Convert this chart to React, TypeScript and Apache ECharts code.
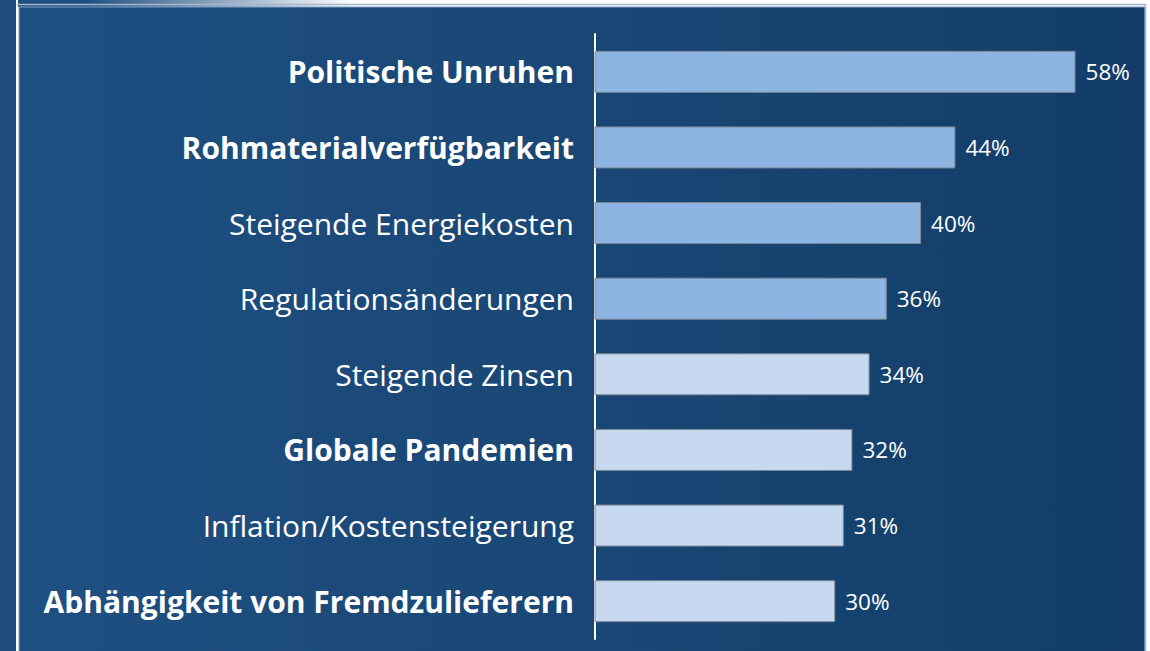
import React, { useEffect, useRef } from "react";
import * as echarts from "echarts";

const categories = [
  "Politische Unruhen",
  "Rohmaterialverfügbarkeit",
  "Steigende Energiekosten",
  "Regulationsänderungen",
  "Steigende Zinsen",
  "Globale Pandemien",
  "Inflation/Kostensteigerung",
  "Abhängigkeit von Fremdzulieferern",
];
const values = [58, 44, 40, 36, 34, 32, 31, 30];
const boldLabels = [
  "Politische Unruhen",
  "Rohmaterialverfügbarkeit",
  "Globale Pandemien",
  "Abhängigkeit von Fremdzulieferern",
];
const highlighted = [true, true, true, true, false, false, false, false];

const DARK_BAR = "#8eb4e3";
const LIGHT_BAR = "#c6d9f1";
const FONT = "'Open Sans', 'Noto Sans', sans-serif";

export default function App() {
  const ref = useRef<HTMLDivElement>(null);
  useEffect(() => {
    if (!ref.current) return;
    const chart = echarts.init(ref.current, undefined, { renderer: "svg" });
    chart.setOption({
      animation: false,
      backgroundColor: "#ffffff",
      graphic: [
        { type: "rect", silent: true, z: -10, shape: { x: 0, y: 0, width: 16, height: 651 }, style: { fill: "#1d4e7f" } },
        {
          type: "rect", silent: true, z: -10,
          shape: { x: 16, y: 0, width: 1131, height: 7 },
          style: {
            fill: new echarts.graphic.LinearGradient(0, 0, 1, 0, [
              { offset: 0, color: "#1d4e7f" },
              { offset: 0.06, color: "#1d4e7f" },
              { offset: 0.3, color: "#ffffff" },
              { offset: 1, color: "#ffffff" },
            ]),
          },
        },
        {
          type: "rect", silent: true, z: -9,
          shape: { x: 19, y: 7, width: 1126, height: 650 },
          style: {
            fill: new echarts.graphic.LinearGradient(0, 0, 1, 0, [
              { offset: 0, color: "#1f5082" },
              { offset: 1, color: "#133d68" },
            ]),
            stroke: "#7f9cc0",
            lineWidth: 1,
          },
        },
        { type: "line", silent: true, z: -8, shape: { x1: 17, y1: 0, x2: 17, y2: 651 }, style: { stroke: "#ffffff", lineWidth: 2 } },
        { type: "line", silent: true, z: -8, shape: { x1: 17, y1: 4.5, x2: 1146, y2: 4.5 }, style: { stroke: "#a3b6ce", lineWidth: 1.5 } },
        { type: "line", silent: true, z: -8, shape: { x1: 1145.5, y1: 4, x2: 1145.5, y2: 651 }, style: { stroke: "#a3b6ce", lineWidth: 1.5 } },
      ],
      grid: { left: 595, right: 23, top: 34, bottom: 12, containLabel: false },
      xAxis: {
        type: "value",
        min: 2,
        max: 64,
        show: false,
        splitLine: { show: false },
      },
      yAxis: {
        type: "category",
        inverse: true,
        data: categories,
        axisLine: { show: true, lineStyle: { color: "#ffffff", width: 2 } },
        axisTick: { show: false },
        axisLabel: {
          margin: 21,
          formatter: (v: string) => (boldLabels.includes(v) ? `{b|${v}}` : `{r|${v}}`),
          rich: {
            b: { color: "#ffffff", fontSize: 30, fontWeight: "bold", fontFamily: FONT },
            r: { color: "#ffffff", fontSize: 30, fontWeight: "normal", fontFamily: FONT },
          },
        },
      },
      series: [
        {
          type: "bar",
          barWidth: 42,
          data: values.map((v, i) => ({
            value: v,
            itemStyle: {
              color: highlighted[i] ? DARK_BAR : LIGHT_BAR,
              borderColor: "#7d8895",
              borderWidth: 1,
            },
          })),
          label: {
            show: true,
            position: "right",
            distance: 10,
            formatter: "{c}%",
            color: "#ffffff",
            fontSize: 22.5,
            fontFamily: FONT,
          },
        },
      ],
    });
    return () => chart.dispose();
  }, []);
  return (
    <div
      ref={ref}
      style={{ position: "absolute", left: 0, top: 0, width: 1150, height: 651 }}
    />
  );
}
